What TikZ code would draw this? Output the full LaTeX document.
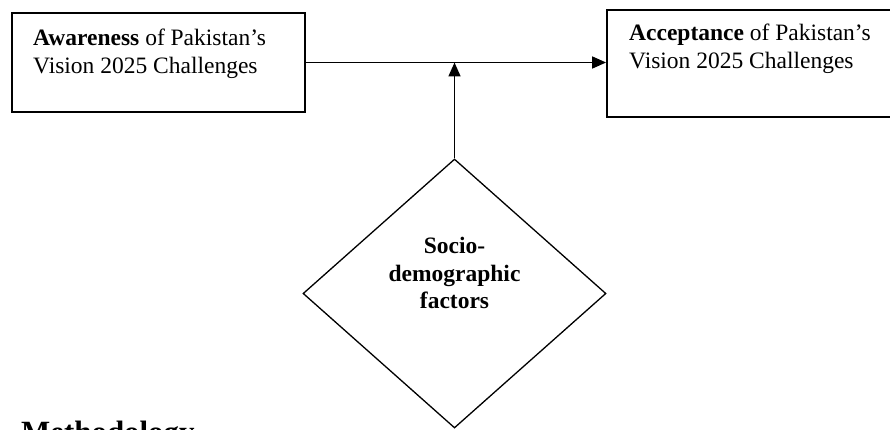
\documentclass[tikz,border=0pt]{standalone}
\usepackage{fontspec}
\setmainfont{Liberation Serif}
\usetikzlibrary{shapes.geometric,arrows.meta}
\begin{document}
\begin{tikzpicture}[x=1pt,y=-1pt,
  boxnode/.style={draw,line width=1.8pt,rectangle,inner sep=0pt},
  boxtext/.style={anchor=north west,inner sep=0pt,align=left,font=\fontsize{23.5}{27.5}\selectfont},
  dmtext/.style={inner sep=0pt,align=center,font=\fontsize{23.5}{27.5}\selectfont\bfseries},
  conn/.style={line width=1.6pt,-{Triangle[length=14pt,width=12pt]}}]
\useasboundingbox (0,0) rectangle (890,430);
\node[boxnode,minimum width=293pt,minimum height=99pt] (aw) at (158.5,62.5) {};
\node[boxnode,minimum width=290pt,minimum height=107pt] (ac) at (752,63.5) {};
\node[draw,line width=1.3pt,diamond,minimum width=303pt,minimum height=269pt,inner sep=0pt] (dm) at (454.5,293.5) {};
\node[boxtext] (awt) at (33,29) {\textbf{Awareness} of Pakistan’s\\Vision 2025 Challenges};
\node[boxtext] (act) at (629,24) {\textbf{Acceptance} of Pakistan’s\\Vision 2025 Challenges};
\node[dmtext] (dmt) at (454.5,273) {Socio-\\demographic\\factors};
\node[anchor=base west,inner sep=0pt,font=\fontsize{30.9}{36}\selectfont\bfseries] (meth) at (21,442) {Methodology};
\coordinate (j) at (dm.north |- aw.east);
\draw[conn] (aw.east) -- (aw.east -| ac.west);
\draw[conn] (dm.north) -- (j);
\end{tikzpicture}
\end{document}
